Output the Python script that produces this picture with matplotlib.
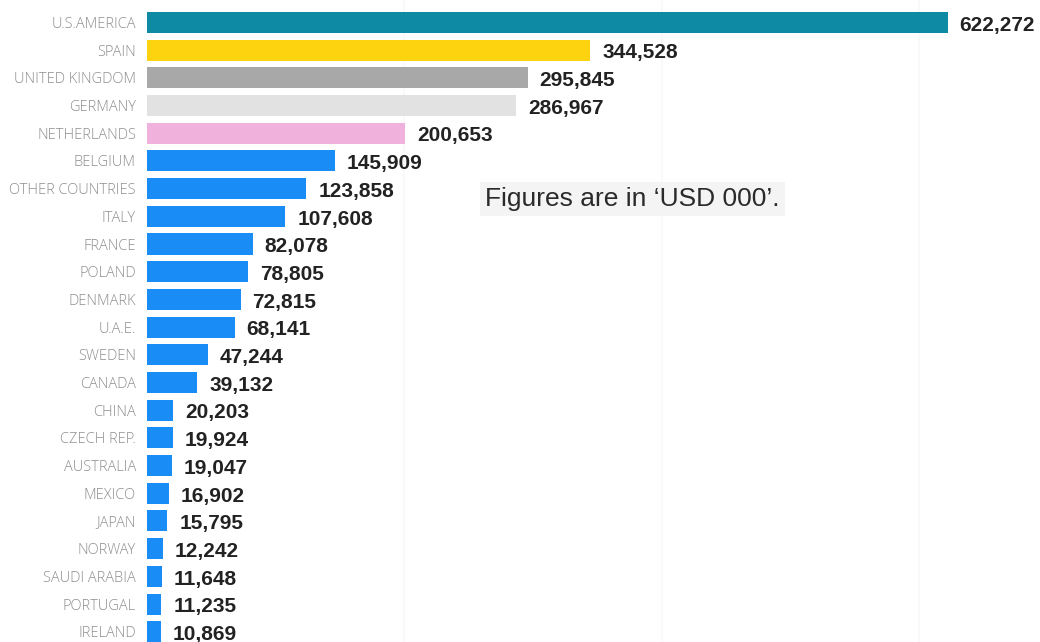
import matplotlib.pyplot as plt
import numpy as np

# export values by destination, USD 000
countries = ["U.S.AMERICA", "SPAIN", "UNITED KINGDOM", "GERMANY", "NETHERLANDS",
             "BELGIUM", "OTHER COUNTRIES", "ITALY", "FRANCE", "POLAND", "DENMARK",
             "U.A.E.", "SWEDEN", "CANADA", "CHINA", "CZECH REP.", "AUSTRALIA",
             "MEXICO", "JAPAN", "NORWAY", "SAUDI ARABIA", "PORTUGAL", "IRELAND"]
values = [622272, 344528, 295845, 286967, 200653, 145909, 123858, 107608,
          82078, 78805, 72815, 68141, 47244, 39132, 20203, 19924, 19047,
          16902, 15795, 12242, 11648, 11235, 10869]

blue = "#1a8cf5"
colors = ["#0f8aa5", "#fdd20e", "#a8a8a8", "#e2e2e2", "#f1b1dd"] + [blue] * (len(values) - 5)

fig = plt.figure(figsize=(10.4, 6.42), dpi=100)
ax = fig.add_axes([147 / 1040, 0, 893 / 1040, 1])

y = np.arange(len(countries))
ax.barh(y, values, height=0.76, color=colors)

ax.set_xlim(0, 693900)
ax.set_ylim(22.37, -0.81)

ax.set_yticks(y)
ax.set_yticklabels(countries, fontsize=10.5, color="#8f8f8f", family="Open Sans",
                   fontweight="light")
ax.tick_params(axis="y", length=0, pad=8)
ax.set_xticks([200000, 400000, 600000])
ax.tick_params(axis="x", length=0, labelbottom=False)
ax.grid(axis="x", color="#f8f8f8", linewidth=1.2)
ax.set_axisbelow(True)
for s in ax.spines.values():
    s.set_visible(False)

for yi, v in zip(y, values):
    ax.annotate(f"{v:,}", (v, yi), xytext=(8.5, -2), textcoords="offset points",
                va="center", ha="left", fontsize=15, fontweight="bold",
                color="#222222", family="Liberation Sans")

fig.text(485 / 1040, 1 - 199 / 642, "Figures are in \u2018USD 000\u2019.",
         fontsize=19, color="#2a2a2a", family="Liberation Sans", va="center", ha="left",
         bbox=dict(boxstyle="square,pad=0.2", facecolor="#f4f4f4", edgecolor="none"))

fig.savefig("out.png", dpi=100)
